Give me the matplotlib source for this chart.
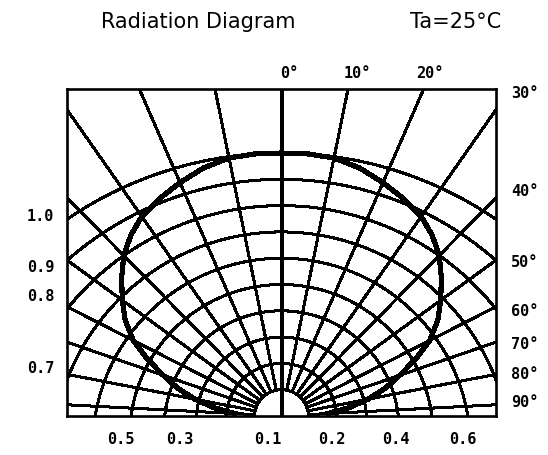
import numpy as np
import matplotlib
matplotlib.use("Agg")
import matplotlib.pyplot as plt

# ---------------- data ----------------
angle_labels = [0, 10, 20, 30, 40, 50, 60, 70, 80, 90]            # grid ray labels (deg)
ray_drawn_angles = [0, 11.5, 23.5, 35, 44.5, 54, 63, 71, 79, 87]  # how the diagram draws them
intensity_levels = [0.1, 0.2, 0.3, 0.4, 0.5, 0.6, 0.7, 0.8, 0.9, 1.0]

curve_angles = [0, 5, 10, 15, 20, 25, 30, 35, 40, 45, 50, 55, 60, 65, 70, 75, 80, 85, 90]
curve_intensity = [1.0, 1.0, 0.995, 0.975, 0.945, 0.915, 0.883, 0.845, 0.80, 0.745,
                   0.69, 0.64, 0.58, 0.51, 0.44, 0.38, 0.315, 0.245, 0.17]

top_angle_texts = ["0°", "10°", "20°"]
right_angle_texts = ["30°", "40°", "50°", "60°", "70°", "80°", "90°"]
left_int_texts = ["1.0", "0.9", "0.8", "0.7"]
bottom_int_texts = ["0.5", "0.3", "0.1", "0.2", "0.4", "0.6"]

title_text = "Radiation Diagram"
temp_text = "Ta=25°C"

# ---------------- geometry of the (bipolar-style) grid ----------------
W, H = 548, 456
UNIT = 263.0          # pixels per unit intensity height
FOCUS = 558.0 / UNIT  # half distance to the second focus


def arc_params(I):
    t = 1.0 - I / FOCUS
    tau = 2.0 * np.arctanh(t)
    rho = FOCUS / np.sinh(tau)
    c = FOCUS * (1.0 / np.tanh(tau) - 1.0)
    return rho, c


def drawn_angle(label_deg):
    lab = np.asarray(label_deg, dtype=float)
    return np.radians(np.interp(np.abs(lab), angle_labels, ray_drawn_angles)) * np.sign(lab)


def to_xy(label_deg, I):
    phi = drawn_angle(label_deg)
    rho, c = arc_params(np.asarray(I, dtype=float))
    s = -c * np.cos(phi) + np.sqrt(rho ** 2 - (c * np.sin(phi)) ** 2)
    return s * np.sin(phi), s * np.cos(phi)


fig = plt.figure(figsize=(W / 100, H / 100), dpi=100)
fl, fr, ft, fb = 67, 496, 90, 417
ax = fig.add_axes([fl / W, 1 - fb / H, (fr - fl) / W, (fb - ft) / H])
half = (fr - fl) / 2 / UNIT
ax.set_xlim(-half, half)
ax.set_ylim(0, (fb - ft) / UNIT)
ax.set_xticks([])
ax.set_yticks([])
for sp in ax.spines.values():
    sp.set_linewidth(1.9)
    sp.set_color("black")

grid_lw = 1.45

# intensity arcs
psi = np.linspace(-np.pi, np.pi, 1500)
for I in intensity_levels:
    rho, c = arc_params(I)
    ax.plot(rho * np.sin(psi), -c + rho * np.cos(psi), color="black",
            lw=grid_lw, antialiased=False, solid_capstyle="butt")

# angle rays (start at innermost arc)
for lab in angle_labels[1:]:
    for sgn in (-1, 1):
        phi = drawn_angle(sgn * lab)
        x0, y0 = to_xy(sgn * lab, intensity_levels[0])
        ax.plot([x0, x0 + 3 * np.sin(phi)], [y0, y0 + 3 * np.cos(phi)],
                color="black", lw=grid_lw, antialiased=False)

ax.axvline(0, color="black", lw=grid_lw, antialiased=False)

# radiation curve
full_angles = [-a for a in curve_angles[::-1]] + curve_angles[1:]
full_int = curve_intensity[::-1] + curve_intensity[1:]
cx, cy = to_xy(full_angles, full_int)
ax.plot(cx, cy, color="black", lw=3.0, antialiased=False, solid_joinstyle="round")

# ---------------- texts ----------------
def fx(px):
    return px / W


def fy(py):
    return 1 - py / H


fig.text(fx(198), fy(22), title_text, ha="center", va="center", fontsize=15,
         family="DejaVu Sans")
fig.text(fx(456), fy(22), temp_text, ha="center", va="center", fontsize=15,
         family="DejaVu Sans")

num_font = dict(family="DejaVu Sans Mono", fontweight="bold", fontsize=11)

top_x = [289, 357, 430]
for t, x in zip(top_angle_texts, top_x):
    fig.text(fx(x), fy(73), t, ha="center", va="center", **num_font)

right_y = [93, 192, 263, 312, 345, 375, 403]
for t, y in zip(right_angle_texts, right_y):
    fig.text(fx(511), fy(y), t, ha="left", va="center", **num_font)

left_y = [217, 267, 297, 369]
for t, y in zip(left_int_texts, left_y):
    fig.text(fx(54), fy(y), t, ha="right", va="center", **num_font)

bottom_x = [121, 180, 268, 332, 396, 463]
for t, x in zip(bottom_int_texts, bottom_x):
    fig.text(fx(x), fy(440), t, ha="center", va="center", **num_font)

fig.savefig("out.png", dpi=100, facecolor="white")
